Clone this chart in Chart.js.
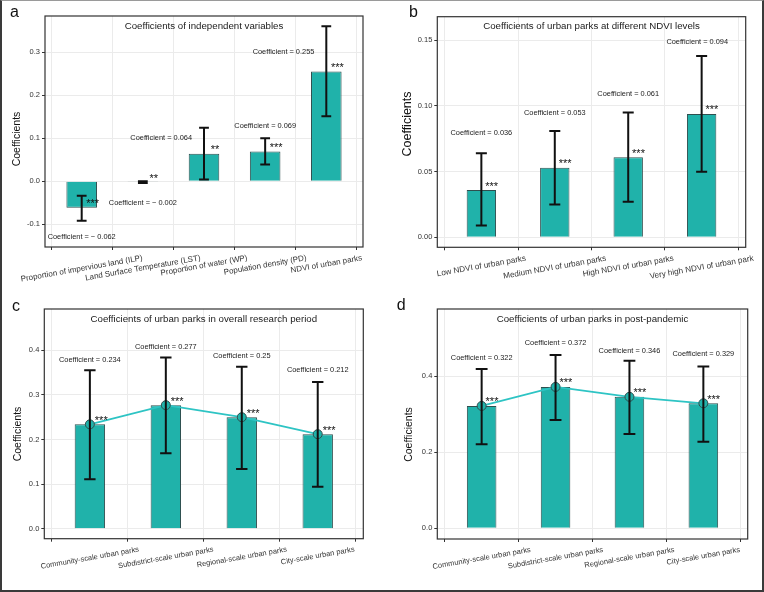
<!DOCTYPE html>
<html><head><meta charset="utf-8">
<script src="https://cdn.jsdelivr.net/npm/chart.js@4.4.1/dist/chart.umd.min.js"></script>
<style>
html,body{margin:0;padding:0;background:#fff;}
#fig{position:relative;width:764px;height:592px;overflow:hidden;background:#fff;}
#fig canvas{position:absolute;}
#frame{position:absolute;left:0;top:0;width:760px;height:589px;border-left:2px solid #3a3a3a;border-right:2px solid #3a3a3a;border-bottom:2px solid #3a3a3a;border-top:1px solid #9a9a9a;pointer-events:none;z-index:5;}
</style></head><body><div id="fig"><div id="frame"></div></div>
<script>
// ---------- data ----------
const catsA = ["Proportion of impervious land (ILP)", "Land Surface Temperature (LST)", "Proportion of water (WP)", "Population density (PD)", "NDVI of urban parks"];
const coefA = [-0.062, -0.002, 0.064, 0.069, 0.255];
const lowA  = [-0.092, -0.004, 0.004, 0.039, 0.151];
const highA = [-0.034, 0.000, 0.124, 0.100, 0.360];
const sigA  = ["***", "**", "**", "***", "***"];
const ticksA = [-0.1, 0.0, 0.1, 0.2, 0.3];

const catsB = ["Low NDVI of urban parks", "Medium NDVI of urban parks", "High NDVI of urban parks", "Very high NDVI of urban park"];
const coefB = [0.036, 0.053, 0.061, 0.094];
const lowB  = [0.009, 0.025, 0.027, 0.050];
const highB = [0.064, 0.081, 0.095, 0.138];
const sigB  = ["***", "***", "***", "***"];
const ticksB = [0.00, 0.05, 0.10, 0.15];

const catsScale = ["Community-scale urban parks", "Subdistrict-scale urban parks", "Regional-scale urban parks", "City-scale urban parks"];
const coefC = [0.234, 0.277, 0.25, 0.212];
const lowC  = [0.111, 0.169, 0.134, 0.094];
const highC = [0.355, 0.384, 0.363, 0.329];
const sigC  = ["***", "***", "***", "***"];
const ticksC = [0.0, 0.1, 0.2, 0.3, 0.4];

const coefD = [0.322, 0.372, 0.346, 0.329];
const lowD  = [0.221, 0.285, 0.248, 0.228];
const highD = [0.419, 0.456, 0.441, 0.426];
const sigD  = ["***", "***", "***", "***"];
const ticksD = [0.0, 0.2, 0.4];

// annotation anchors (data units: category index, value)
const labelPosA = [[1, -0.130], [2, -0.050], [2.30, 0.100], [4, 0.128], [4.30, 0.300]];
const labelPosB = [[1, 0.0798], [2, 0.0944], [3, 0.1094], [3.94, 0.1489]];
const labelPosC = [[1, 0.378], [2, 0.408], [3, 0.388], [4, 0.357]];
const labelPosD = [[1, 0.447], [2, 0.488], [3, 0.467], [4, 0.458]];

// ---------- layout ----------
const FONT = "'Liberation Sans', Arial, Helvetica, sans-serif";
Chart.defaults.font.family = FONT;
const BAR = '#20b2aa', BAR_EDGE = '#2f4f4f', LINE = '#2ec4c4';

const panels = [
  { letter:'a', left:0, top:0, w:380, h:290, plot:[45,16,363,247], cats:catsA, coef:coefA, low:lowA, high:highA, sig:sigA, ticks:ticksA,
    yMin:-0.153, yMax:0.384, barPct:0.5, line:false, dec:1, title:'Coefficients of independent variables', labelPos:labelPosA,
    starNudge:0.18, capW:0.16, xFont:8.0, yTitleFont:10.5, yTitleX:17.3, yTitleY:139, letterX:10, letterY:16.7 },
  { letter:'b', left:380, top:0, w:384, h:290, plot:[57.3,16.7,365.7,247.3], cats:catsB, coef:coefB, low:lowB, high:highB, sig:sigB, ticks:ticksB,
    yMin:-0.0076, yMax:0.168, barPct:0.4, line:false, dec:2, title:'Coefficients of urban parks at different NDVI levels', labelPos:labelPosB,
    starNudge:0.14, capW:0.15, xFont:8.1, yTitleFont:12.5, yTitleX:27.7, yTitleY:124, letterX:29, letterY:16.7 },
  { letter:'c', left:0, top:290, w:380, h:302, plot:[44.3,19,363.3,248.7], cats:catsScale, coef:coefC, low:lowC, high:highC, sig:sigC, ticks:ticksC,
    yMin:-0.0224, yMax:0.4926, barPct:0.4, line:true, dec:1, title:'Coefficients of urban parks in overall research period', labelPos:labelPosC,
    starNudge:0.15, capW:0.15, xFont:7.5, yTitleFont:10.5, yTitleX:18.3, yTitleY:144, letterX:12, letterY:20.7 },
  { letter:'d', left:380, top:290, w:384, h:302, plot:[57.3,19,367.7,249], cats:catsScale, coef:coefD, low:lowD, high:highD, sig:sigD, ticks:ticksD,
    yMin:-0.028, yMax:0.577, barPct:0.4, line:true, dec:1, title:'Coefficients of urban parks in post-pandemic', labelPos:labelPosD,
    starNudge:0.14, capW:0.16, xFont:7.5, yTitleFont:10.5, yTitleX:29, yTitleY:144.5, letterX:16.7, letterY:20 }
];

function fmtCoef(v) {
  return 'Coefficient = ' + (v < 0 ? '\u2212 ' + String(Math.abs(v)) : String(v));
}

function makeOverlay(p) {
  return {
    id: 'overlay_' + p.letter,
    afterDatasetsDraw(chart) {
      const ctx = chart.ctx, xs = chart.scales.x, ys = chart.scales.y;
      ctx.save();
      ctx.strokeStyle = '#111'; ctx.lineWidth = 2; ctx.lineCap = 'butt';
      p.coef.forEach((v, i) => {
        const x = xs.getPixelForValue(i + 1);
        const hw = xs.getPixelForValue(i + 1 + p.capW / 2) - x;
        const yl = ys.getPixelForValue(p.low[i]), yh = ys.getPixelForValue(p.high[i]);
        ctx.beginPath();
        ctx.moveTo(x, yl); ctx.lineTo(x, yh);
        ctx.moveTo(x - hw, yl); ctx.lineTo(x + hw, yl);
        ctx.moveTo(x - hw, yh); ctx.lineTo(x + hw, yh);
        ctx.stroke();
      });
      ctx.fillStyle = '#111'; ctx.font = '11px ' + FONT; ctx.textAlign = 'center'; ctx.textBaseline = 'alphabetic';
      p.sig.forEach((s, i) => ctx.fillText(s, xs.getPixelForValue(i + 1 + p.starNudge), ys.getPixelForValue(p.coef[i]) - 0.5));
      ctx.font = '7.4px ' + FONT; ctx.textBaseline = 'middle'; ctx.fillStyle = '#1a1a1a';
      p.labelPos.forEach((lp, i) => ctx.fillText(fmtCoef(p.coef[i]), xs.getPixelForValue(lp[0]), ys.getPixelForValue(lp[1])));
      ctx.restore();
    },
    afterDraw(chart) {
      const ctx = chart.ctx, a = chart.chartArea, xs = chart.scales.x;
      ctx.save();
      ctx.strokeStyle = '#333'; ctx.lineWidth = 1.2;
      ctx.strokeRect(a.left, a.top, a.right - a.left, a.bottom - a.top);
      ctx.fillStyle = '#1a1a1a'; ctx.font = '9.7px ' + FONT; ctx.textAlign = 'center'; ctx.textBaseline = 'middle';
      ctx.fillText(p.title, (a.left + a.right) / 2, a.top + 10);
      ctx.save();
      ctx.translate(p.yTitleX, p.yTitleY); ctx.rotate(-Math.PI / 2);
      ctx.font = p.yTitleFont + 'px ' + FONT; ctx.fillStyle = '#111';
      ctx.fillText('Coefficients', 0, 0);
      ctx.restore();
      const th = 10 * Math.PI / 180;
      ctx.font = p.xFont + 'px ' + FONT; ctx.fillStyle = '#333';
      p.cats.forEach((c, i) => {
        const w = ctx.measureText(c).width;
        const V = w * Math.sin(th) + p.xFont * Math.cos(th);
        const cx = xs.getPixelForValue(i + 1), cy = a.bottom + 7 + V / 2;
        ctx.save(); ctx.translate(cx, cy); ctx.rotate(-th); ctx.fillText(c, 0, 0); ctx.restore();
      });
      ctx.font = '16px ' + FONT; ctx.textAlign = 'left'; ctx.textBaseline = 'alphabetic'; ctx.fillStyle = '#111';
      ctx.fillText(p.letter, p.letterX, p.letterY);
      ctx.restore();
    }
  };
}

const fig = document.getElementById('fig');
panels.forEach(p => {
  const cv = document.createElement('canvas');
  cv.width = p.w; cv.height = p.h;
  cv.style.left = p.left + 'px'; cv.style.top = p.top + 'px';
  cv.style.width = p.w + 'px'; cv.style.height = p.h + 'px';
  fig.insertBefore(cv, document.getElementById('frame'));
  const datasets = [{
    type: 'bar', order: 1,
    data: p.coef.map((v, i) => ({ x: i + 1, y: v })),
    backgroundColor: BAR, borderColor: BAR_EDGE, borderWidth: 1,
    barPercentage: p.barPct, categoryPercentage: 1
  }];
  if (p.line) {
    datasets.push({
      type: 'line', order: 0,
      data: p.coef.map((v, i) => ({ x: i + 1, y: v })),
      borderColor: LINE, borderWidth: 1.8, tension: 0,
      pointRadius: 4.5, pointBackgroundColor: BAR, pointBorderColor: BAR_EDGE, pointBorderWidth: 1
    });
  }
  const gridOpts = { color: '#ebebeb', lineWidth: 1, drawTicks: true, tickLength: 3, tickColor: '#333', tickWidth: 1 };
  new Chart(cv, {
    type: 'bar',
    data: { datasets },
    options: {
      responsive: false, animation: false, devicePixelRatio: 1,
      layout: { padding: { left: p.plot[0] - 30, top: p.plot[1], right: p.w - p.plot[2], bottom: p.h - p.plot[3] - 5 } },
      plugins: { legend: { display: false }, tooltip: { enabled: false }, title: { display: false } },
      scales: {
        x: {
          type: 'linear', min: 0.4, max: p.cats.length + 0.6, offset: false,
          afterBuildTicks: s => { s.ticks = p.cats.map((c, i) => ({ value: i + 1 })); },
          afterFit: s => { s.height = 5; },
          ticks: { display: false },
          grid: gridOpts, border: { display: false }
        },
        y: {
          type: 'linear', min: p.yMin, max: p.yMax,
          afterBuildTicks: s => { s.ticks = p.ticks.map(v => ({ value: v })); },
          afterFit: s => { s.width = 30; },
          ticks: { callback: v => Number(v).toFixed(p.dec), font: { size: 7.5 }, color: '#333', padding: 2 },
          grid: gridOpts, border: { display: false }
        }
      }
    },
    plugins: [makeOverlay(p)]
  });
});
</script></body></html>
